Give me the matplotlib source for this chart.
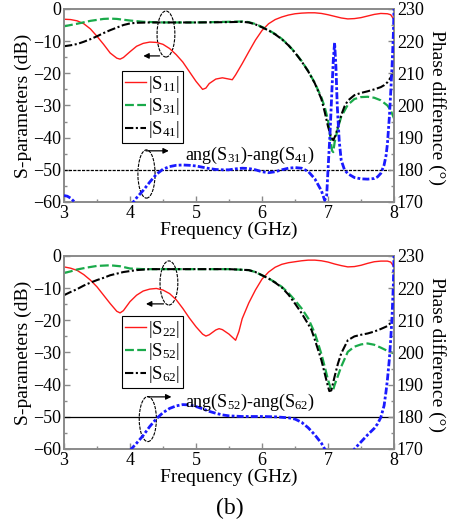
import numpy as np
import matplotlib
matplotlib.use("Agg")
import matplotlib.pyplot as plt
from matplotlib.patches import Ellipse, FancyArrowPatch
from matplotlib.ticker import MultipleLocator

plt.rcParams['font.family'] = ['Liberation Serif', 'DejaVu Serif']
plt.rcParams['mathtext.fontset'] = 'custom'
plt.rcParams['mathtext.rm'] = 'Liberation Serif'
plt.rcParams['mathtext.it'] = 'Liberation Serif:italic'
plt.rcParams['mathtext.bf'] = 'Liberation Serif:bold'

# ---------------- upper panel: port 1 excitation ----------------
f_s11 = [3.0, 3.1, 3.2, 3.3, 3.4, 3.5, 3.6, 3.7, 3.8, 3.85, 3.9, 4.0, 4.1, 4.2, 4.3, 4.4,
         4.5, 4.6, 4.7, 4.8, 4.9, 5.0, 5.1, 5.15, 5.2, 5.3, 5.4, 5.5, 5.55, 5.6, 5.7, 5.8,
         5.9, 6.0, 6.1, 6.2, 6.3, 6.4, 6.5, 6.6, 6.7, 6.8, 6.9, 7.0, 7.1, 7.2, 7.3, 7.4,
         7.5, 7.6, 7.7, 7.8, 7.9, 7.95, 8.0]
s11 = [-3.2, -3.3, -3.7, -4.6, -6.2, -8.5, -11.0, -13.7, -15.3, -15.6, -15.1, -13.3, -11.6,
       -10.7, -10.3, -10.4, -11.0, -12.3, -14.2, -16.5, -19.5, -22.5, -25.0, -24.6, -23.2,
       -21.8, -21.4, -21.8, -22.0, -20.5, -17.0, -13.3, -9.7, -6.7, -4.6, -3.3, -2.5, -1.9,
       -1.5, -1.3, -1.2, -1.2, -1.4, -1.8, -2.3, -2.8, -3.1, -3.0, -2.7, -2.2, -1.7, -1.4,
       -1.5, -1.8, -3.3]

f_s31 = [3.0, 3.2, 3.4, 3.6, 3.7, 3.8, 4.0, 4.2, 4.5, 5.0, 5.5, 5.7, 5.8, 5.9, 6.0, 6.1,
         6.2, 6.3, 6.4, 6.5, 6.6, 6.7, 6.8, 6.9, 6.95, 7.0, 7.03, 7.06, 7.08, 7.1, 7.15,
         7.2, 7.3, 7.4, 7.5, 7.6, 7.7, 7.8, 7.9, 7.95, 8.0]
s31 = [-5.4, -4.6, -3.7, -3.1, -3.0, -3.1, -3.6, -4.0, -4.2, -4.2, -4.0, -3.9, -4.1, -4.7,
       -5.6, -6.6, -7.8, -9.3, -11.2, -13.5, -16.2, -19.3, -23.0, -27.5, -30.5, -34.5,
       -39.0, -44.0, -44.5, -41.5, -37.0, -33.5, -29.8, -28.0, -27.4, -27.3, -27.6, -28.4,
       -30.0, -31.5, -34.0]

f_s41 = [3.0, 3.1, 3.2, 3.3, 3.4, 3.5, 3.6, 3.7, 3.8, 3.9, 4.0, 4.1, 4.3, 5.0, 5.5, 5.7,
         5.8, 5.9, 6.0, 6.1, 6.2, 6.3, 6.4, 6.5, 6.6, 6.7, 6.8, 6.9, 6.95, 7.0, 7.05, 7.08,
         7.12, 7.15, 7.2, 7.25, 7.3, 7.4, 7.5, 7.6, 7.7, 7.8, 7.85, 7.9, 7.95, 8.0]
s41 = [-11.6, -11.3, -10.9, -10.2, -9.4, -8.5, -7.5, -6.6, -5.8, -5.0, -4.5, -4.3, -4.2,
       -4.2, -4.1, -4.0, -4.2, -4.8, -5.7, -6.7, -7.9, -9.4, -11.3, -13.6, -16.3, -19.4,
       -23.1, -28.0, -32.0, -36.5, -40.0, -40.8, -39.0, -36.5, -33.0, -30.3, -28.5, -26.8,
       -26.1, -25.6, -25.0, -24.3, -23.7, -22.8, -21.3, -19.4]

f_ph1 = [3.0, 3.05, 3.1, 3.15, 3.2, 3.25, 4.0, 4.05, 4.1, 4.2, 4.3, 4.4, 4.5, 4.6, 4.7, 4.8,
         4.9, 5.0, 5.1, 5.2, 5.3, 5.4, 5.5, 5.6, 5.7, 5.8, 5.9, 6.0, 6.1, 6.2, 6.3, 6.4,
         6.5, 6.6, 6.7, 6.8, 6.9, 6.95, 6.98, 7.0, 7.03, 7.06, 7.08, 7.1, 7.12, 7.14, 7.17,
         7.2, 7.25, 7.3, 7.4, 7.5, 7.6, 7.7, 7.75, 7.8, 7.85, 7.88, 7.9, 7.93, 7.95, 7.97,
         7.99, 8.0]
ph1 = [172.0, 171.8, 171.2, 170.2, 168.8, np.nan, 168.8, 170.0, 171.3, 173.6, 176.2, 178.6,
       180.2, 181.0, 181.4, 181.5, 181.4, 181.2, 180.8, 180.4, 180.1, 180.0, 180.0, 180.3,
       180.5, 180.4, 180.0, 179.4, 179.1, 179.4, 180.0, 180.5, 180.7, 180.5, 179.5, 177.2,
       173.5, 170.5, 172.0, 180.0, 191.0, 205.0, 214.0, 219.5, 212.0, 200.0, 189.0, 183.0,
       180.0, 178.8, 177.6, 177.2, 177.1, 177.3, 177.8, 178.9, 181.5, 184.5, 188.0, 196.5,
       204.0, 212.0, 222.0, 230.0]

# ---------------- lower panel: port 2 excitation ----------------
f_s22 = [3.0, 3.1, 3.2, 3.3, 3.4, 3.5, 3.6, 3.7, 3.8, 3.85, 3.9, 4.0, 4.1, 4.2, 4.3, 4.4,
         4.5, 4.6, 4.7, 4.8, 4.9, 5.0, 5.1, 5.15, 5.2, 5.3, 5.35, 5.4, 5.5, 5.6, 5.65, 5.7,
         5.8, 5.9, 6.0, 6.1, 6.2, 6.3, 6.4, 6.5, 6.6, 6.7, 6.8, 6.9, 7.0, 7.1, 7.2, 7.3,
         7.4, 7.5, 7.6, 7.7, 7.8, 7.9, 7.95, 8.0]
s22 = [-3.4, -3.8, -4.5, -5.8, -7.5, -9.6, -12.2, -14.8, -17.2, -17.7, -17.0, -14.2, -12.2,
       -10.9, -10.3, -10.1, -10.6, -11.7, -13.6, -16.3, -19.3, -22.0, -24.3, -24.9, -24.5,
       -23.0, -22.6, -22.9, -24.3, -26.2, -23.5, -19.5, -14.6, -10.6, -7.2, -5.0, -3.5,
       -2.6, -2.1, -1.8, -1.5, -1.3, -1.3, -1.5, -1.9, -2.5, -3.0, -3.4, -3.3, -2.9, -2.3,
       -1.8, -1.6, -1.6, -1.9, -3.4]

f_s52 = [3.0, 3.1, 3.2, 3.35, 3.5, 3.7, 3.85, 4.0, 4.2, 4.5, 5.5, 5.8, 5.9, 6.0, 6.1, 6.2,
         6.3, 6.4, 6.5, 6.6, 6.7, 6.8, 6.85, 6.9, 6.95, 7.0, 7.05, 7.08, 7.1, 7.15, 7.2,
         7.3, 7.4, 7.5, 7.6, 7.7, 7.8, 7.9, 8.0]
s52 = [-5.3, -4.8, -4.2, -3.6, -3.1, -2.9, -3.2, -3.9, -4.1, -4.1, -4.1, -4.4, -5.0, -6.0,
       -7.0, -8.2, -9.6, -11.5, -13.8, -16.3, -19.4, -24.0, -27.2, -30.5, -34.4, -38.5,
       -41.7, -41.5, -40.1, -37.3, -34.4, -29.8, -28.2, -27.5, -27.2, -27.6, -28.5, -29.5,
       -30.3]

f_s62 = [3.0, 3.1, 3.2, 3.3, 3.4, 3.5, 3.6, 3.7, 3.8, 3.9, 4.0, 4.1, 4.3, 5.5, 5.8, 5.9,
         6.0, 6.1, 6.2, 6.3, 6.4, 6.5, 6.6, 6.7, 6.75, 6.8, 6.9, 6.95, 7.0, 7.02, 7.05, 7.1,
         7.15, 7.2, 7.3, 7.4, 7.5, 7.6, 7.7, 7.8, 7.9, 7.95, 8.0]
s62 = [-12.2, -11.2, -10.3, -9.2, -8.3, -7.5, -6.8, -6.0, -5.5, -5.0, -4.7, -4.4, -4.1,
       -4.1, -4.4, -5.0, -6.0, -7.0, -8.3, -9.8, -12.0, -14.8, -17.8, -21.2, -23.0, -26.0,
       -32.4, -36.5, -40.6, -42.0, -41.8, -37.5, -33.5, -30.3, -26.2, -25.0, -24.5, -24.1,
       -23.5, -22.7, -21.8, -20.8, -19.4]

f_ph2 = [4.0, 4.02, 4.1, 4.2, 4.3, 4.4, 4.5, 4.6, 4.7, 4.8, 4.9, 5.0, 5.1, 5.2, 5.3, 5.4,
         5.5, 5.7, 6.0, 6.2, 6.4, 6.5, 6.6, 6.7, 6.8, 6.9, 6.95, 7.0, 7.2, 7.35, 7.4, 7.5,
         7.6, 7.7, 7.75, 7.8, 7.85, 7.88, 7.9, 7.93, 7.95, 7.97, 7.99, 8.0]
ph2 = [169.5, 170.0, 171.8, 174.2, 177.0, 179.4, 181.3, 182.6, 183.4, 183.8, 183.7, 183.2,
       182.5, 181.7, 181.1, 180.6, 180.3, 180.1, 180.1, 180.0, 179.7, 179.3, 178.3, 176.6,
       174.4, 171.8, 170.0, 168.5, np.nan, 168.5, 170.0, 172.2, 174.4, 176.4, 177.8, 179.8,
       183.5, 188.0, 191.5, 198.0, 204.0, 211.0, 221.0, 230.0]

ref_phase = 180.0

RED = '#ff1a1a'
GREEN = '#1aaa4a'
BLUE = '#1a1aff'
FRAME = '#8a8a8a'
FS_TICK = 13
FS_LAB = 14


def style_axes(ax, axr):
    ax.set_xlim(3, 8)
    ax.set_ylim(-60, 0)
    axr.set_ylim(170, 230)
    ax.xaxis.set_major_locator(MultipleLocator(1))
    ax.xaxis.set_minor_locator(MultipleLocator(0.5))
    ax.yaxis.set_major_locator(MultipleLocator(10))
    ax.yaxis.set_minor_locator(MultipleLocator(5))
    axr.yaxis.set_major_locator(MultipleLocator(10))
    axr.yaxis.set_minor_locator(MultipleLocator(5))
    for a in (ax, axr):
        for sp in a.spines.values():
            sp.set_color(FRAME)
            sp.set_linewidth(1.2)
        a.tick_params(which='both', direction='in', color=FRAME, labelsize=FS_TICK,
                      pad=2, width=1.0)
        a.tick_params(which='major', length=4)
        a.tick_params(which='minor', length=2.5)
    ax.tick_params(axis='y', which='both', right=False)
    ax.set_ylabel('S-parameters (dB)', fontsize=FS_LAB, labelpad=1)
    axr.set_ylabel('Phase difference (°)', fontsize=FS_LAB, rotation=270,
                   ha='center', va='center')
    axr.yaxis.set_label_coords(1.13, 0.49)
    ax.set_xlabel('Frequency (GHz)', fontsize=FS_LAB, labelpad=0)


def panel(rect, fr, r, fg, g, fk, k, fb, b, labels, ref_style, ang_text,
          s_ell, s_arr, p_ell, p_arr, leg_top):
    ax = fig.add_axes(rect)
    axr = ax.twinx()
    ax.plot(fr, r, color=RED, lw=1.0, label=labels[0])
    ax.plot(fg, g, color=GREEN, lw=1.6, ls=(0, (4, 1.5)), label=labels[1])
    ax.plot(fk, k, color='black', lw=1.5, ls=(0, (4, 1.2, 1, 1.2)), label=labels[2])
    axr.axhline(ref_phase, color='black', lw=0.9, ls=ref_style, zorder=1)
    axr.plot(fb, b, color=BLUE, lw=2.0, ls=(0, (2.5, 0.8, 1, 0.8)), zorder=3)
    style_axes(ax, axr)

    # marker ellipses and arrows pointing to the relevant axis
    ax.add_patch(Ellipse(s_ell[:2], s_ell[2], s_ell[3], fill=False, ec='black', lw=0.8,
                         ls=(0, (3, 1))))
    ax.add_patch(FancyArrowPatch(s_arr[0], s_arr[1], arrowstyle='-|>', mutation_scale=8,
                                 color='black', lw=0.9))
    axr.add_patch(Ellipse(p_ell[:2], p_ell[2], p_ell[3], fill=False, ec='black', lw=0.8,
                          ls=(0, (3, 1))))
    axr.add_patch(FancyArrowPatch(p_arr[0], p_arr[1], arrowstyle='-|>', mutation_scale=8,
                                  color='black', lw=0.9))
    axr.text(4.83, 184.6, ang_text, fontsize=FS_TICK, ha='left', va='center')

    leg = ax.legend(loc='upper left', bbox_to_anchor=(0.176, leg_top), fontsize=13.5,
                    frameon=True, fancybox=False, edgecolor='black', framealpha=1,
                    borderpad=0.15, labelspacing=0.1, handlelength=1.15,
                    handletextpad=0.1, borderaxespad=0)
    leg.get_frame().set_linewidth(0.8)
    return ax, axr


fig = plt.figure(figsize=(4.59, 5.26), dpi=100)

panel([0.1394, 0.616, 0.719, 0.367], f_s11, s11, f_s31, s31, f_s41, s41, f_ph1, ph1,
      [r'|S$_{11}$|', r'|S$_{31}$|', r'|S$_{41}$|'], (0, (2.5, 1)),
      r'ang(S$_{31}$)-ang(S$_{41}$)',
      (4.545, -7.8, 0.27, 14.3), ((4.49, -14.6), (4.16, -14.6)),
      (4.25, 178.7, 0.26, 15.0), ((4.2, 185.9), (4.63, 185.9)), 0.68)

panel([0.1394, 0.1464, 0.719, 0.367], f_s22, s22, f_s52, s52, f_s62, s62, f_ph2, ph2,
      [r'|S$_{22}$|', r'|S$_{52}$|', r'|S$_{62}$|'], '-',
      r'ang(S$_{52}$)-ang(S$_{62}$)',
      (4.59, -8.4, 0.27, 13.7), ((4.55, -14.9), (4.2, -14.9)),
      (4.27, 179.3, 0.26, 14.0), ((4.23, 186.2), (4.67, 186.2)), 0.69)

fig.text(0.50, 0.034, '(b)', fontsize=17, ha='center', va='center')

fig.savefig('out.png', dpi=100)
